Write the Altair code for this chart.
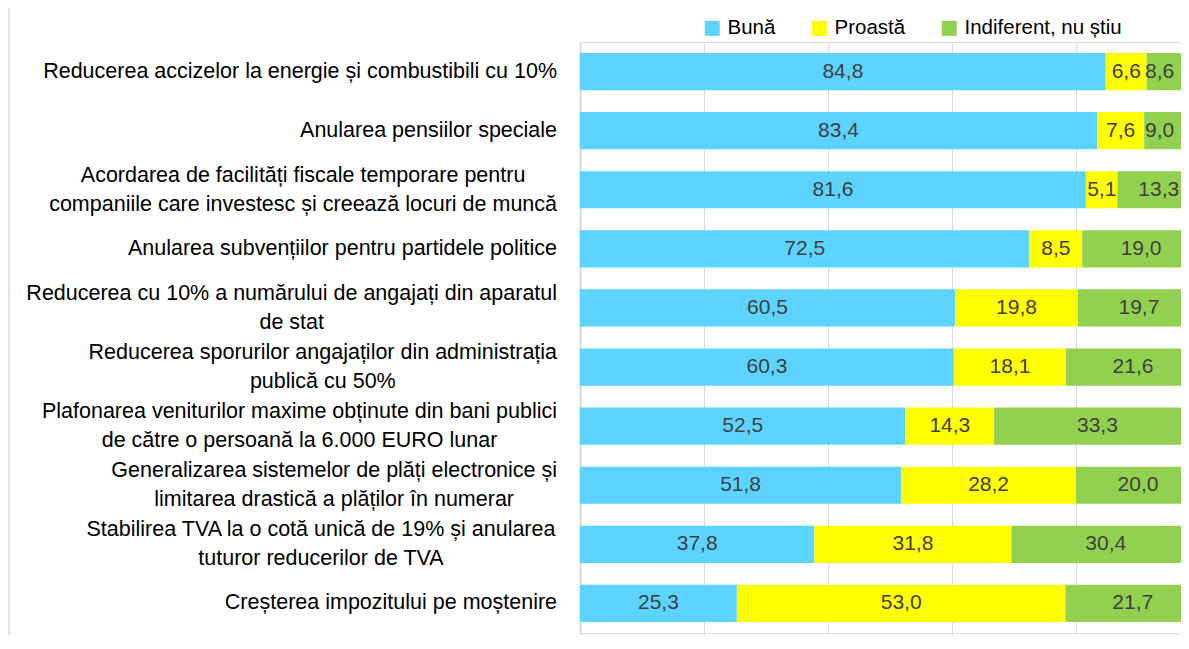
import altair as alt
import pandas as pd

# ---- data ----
categories = [
    ["Reducerea accizelor la energie și combustibili cu 10%"],
    ["Anularea pensiilor speciale"],
    ["Acordarea de facilități fiscale temporare pentru", "companiile care investesc și creează locuri de muncă"],
    ["Anularea subvențiilor pentru partidele politice"],
    ["Reducerea cu 10% a numărului de angajați din aparatul", "de stat"],
    ["Reducerea sporurilor angajaților din administrația", "publică cu 50%"],
    ["Plafonarea veniturilor maxime obținute din bani publici", "de către o persoană la 6.000 EURO lunar"],
    ["Generalizarea sistemelor de plăți electronice și", "limitarea drastică a plăților în numerar"],
    ["Stabilirea TVA la o cotă unică de 19% și anularea", "tuturor reducerilor de TVA"],
    ["Creșterea impozitului pe moștenire"],
]
series = ["Bună", "Proastă", "Indiferent, nu știu"]
buna = [84.8, 83.4, 81.6, 72.5, 60.5, 60.3, 52.5, 51.8, 37.8, 25.3]
proasta = [6.6, 7.6, 5.1, 8.5, 19.8, 18.1, 14.3, 28.2, 31.8, 53.0]
indiferent = [8.6, 9.0, 13.3, 19.0, 19.7, 21.6, 33.3, 20.0, 30.4, 21.7]

colors = ["#5CD4FF", "#FFFF00", "#92D050"]

# ---- styling helpers ----
FONT = "Liberation Sans"
CAT_SIZE = 21.5
VAL_SIZE = 21
LEG_SIZE = 20.5
LINE_H = 29

# Arial / Liberation Sans advance widths (1/1000 em) for label centring
W = {" ": 278, ".": 278, ",": 278, "%": 889,
     "a": 556, "b": 556, "c": 500, "d": 556, "e": 556, "f": 278, "g": 556, "h": 556,
     "i": 222, "j": 222, "k": 500, "l": 222, "m": 833, "n": 556, "o": 556, "p": 556,
     "q": 556, "r": 333, "s": 500, "t": 278, "u": 556, "v": 500, "w": 722, "x": 500,
     "y": 500, "z": 500, "ă": 556, "â": 556, "î": 278, "ș": 500, "ț": 278,
     "A": 667, "C": 722, "E": 667, "G": 778, "O": 778, "P": 667, "R": 722, "S": 667,
     "T": 611, "U": 722, "V": 667, "L": 556}


def text_width(s, size):
    return sum(W.get(ch, 556) for ch in s) / 1000.0 * size


LABEL_RIGHT = -23  # px left of the plot origin

cat_keys = [" ".join(c) for c in categories]

rows = []
values = [buna, proasta, indiferent]
for i, key in enumerate(cat_keys):
    for j, s in enumerate(series):
        rows.append({"cat": key, "series": s, "value": values[j][i], "order": j})
df = pd.DataFrame(rows)

lab_rows = []
for key, lines in zip(cat_keys, categories):
    w = max(text_width(l, CAT_SIZE) for l in lines)
    lab_rows.append({"cat": key, "txt": "\n".join(lines), "lx": LABEL_RIGHT - w / 2,
                     "nlines": len(lines)})
df_lab = pd.DataFrame(lab_rows)

PLOT_W = 601
PLOT_H = 591
RANGE_W = 620           # pixel length of 0..100 (right end is beyond the visible area)
PX_PER_UNIT = RANGE_W / 100.0
# keep value labels fully inside the visible plot
MAX_LABEL_X = (PLOT_W - text_width("00,0", VAL_SIZE) / 2 - 1) / PX_PER_UNIT

Y = alt.Y("cat:N", sort=cat_keys, title=None,
          scale=alt.Scale(paddingInner=0.37, paddingOuter=0.185),
          axis=alt.Axis(labels=False, ticks=False, grid=False, domain=True,
                        domainColor="#D9D9D9", domainWidth=2, title=None))

xscale = alt.Scale(domain=[0, 100], range=[0, RANGE_W], nice=False)
xaxis = alt.Axis(values=[0, 20, 40, 60, 80, 100], labels=False, ticks=True, tickSize=6,
                 tickColor="#D9D9D9", grid=True, gridColor="#D9D9D9", gridWidth=1,
                 domain=False, title=None)

base = alt.Chart(df).transform_stack(
    stack="value", groupby=["cat"], as_=["v0", "v1"],
    sort=[alt.SortField("order", order="ascending")]
)

bars = base.mark_bar().encode(
    y=Y,
    x=alt.X("v0:Q", scale=xscale, axis=xaxis),
    x2="v1:Q",
    color=alt.Color(
        "series:N",
        sort=series,
        scale=alt.Scale(domain=series, range=colors),
        legend=alt.Legend(
            title=None, orient="none", legendX=122, legendY=-24, direction="horizontal",
            symbolType="square", symbolSize=225, symbolStrokeWidth=0,
            labelFont=FONT, labelFontSize=LEG_SIZE, labelColor="#000000",
            labelOffset=5, columnPadding=33, padding=0,
        ),
    ),
)

vals = base.transform_calculate(
    mid=f"min((datum.v0 + datum.v1) / 2, {MAX_LABEL_X:.3f})",
    label="replace(format(datum.value, '.1f'), '.', ',')",
).mark_text(font=FONT, fontSize=VAL_SIZE, color="#404040", baseline="middle", align="center").encode(
    y=alt.Y("cat:N", sort=cat_keys),
    x=alt.X("mid:Q"),
    text="label:N",
)

lab_base = alt.Chart(df_lab)
lab_one = lab_base.transform_filter("datum.nlines == 1").mark_text(
    font=FONT, fontSize=CAT_SIZE, color="#000000", align="center", baseline="middle",
    lineBreak="\n", lineHeight=LINE_H,
).encode(
    y=alt.Y("cat:N", sort=cat_keys),
    x=alt.X("lx:Q", scale=None),
    text="txt:N",
)
lab_two = lab_base.transform_filter("datum.nlines == 2").mark_text(
    font=FONT, fontSize=CAT_SIZE, color="#000000", align="center", baseline="middle",
    lineBreak="\n", lineHeight=LINE_H, dy=-14,
).encode(
    y=alt.Y("cat:N", sort=cat_keys),
    x=alt.X("lx:Q", scale=None),
    text="txt:N",
)

border = alt.Chart(pd.DataFrame({"k": [0]})).mark_rule(color="#D9D9D9", strokeWidth=1.5).encode(
    x=alt.value(-571), y=alt.value(-40), y2=alt.value(PLOT_H + 10)
)

chart = alt.layer(bars, vals, lab_one, lab_two, border).properties(
    width=PLOT_W, height=PLOT_H,
    autosize=alt.AutoSizeParams(type="none"),
    padding={"left": 572, "top": 34, "right": 0, "bottom": 2},
).configure_view(stroke=None).configure(background="white")

chart.save("out.html", embed_options={"renderer": "svg", "actions": False})
